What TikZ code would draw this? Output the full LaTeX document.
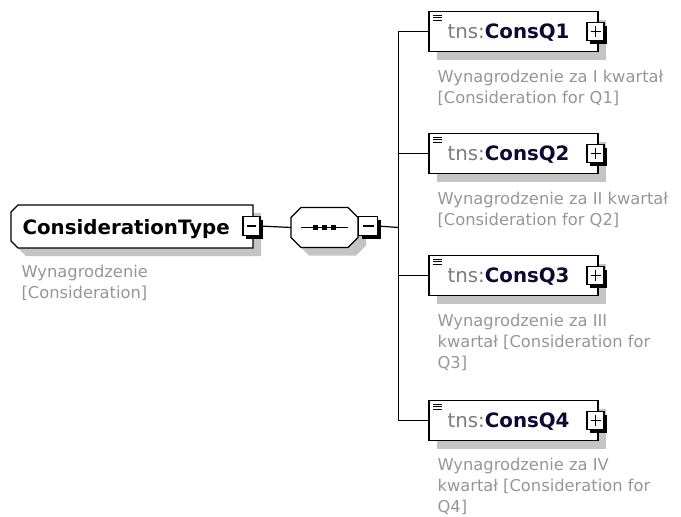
\documentclass[tikz,border=0pt]{standalone}
\usepackage{fontspec}
\setmainfont{DejaVu Sans}
\usetikzlibrary{calc}
\definecolor{shade}{RGB}{196,196,196}
\definecolor{desc}{RGB}{150,150,150}
\definecolor{nsgrey}{RGB}{125,125,125}
\definecolor{qnavy}{RGB}{10,10,50}
\begin{document}
\begin{tikzpicture}[x=1pt,y=-1pt,line width=1.2pt,
  hold/.style={inner sep=0pt,outer sep=0pt,draw=none},
  conn/.style={draw=black,line width=1.2pt},
  border/.style={draw=black,fill=white,line width=1.2pt},
  shadowfill/.style={fill=shade,draw=none},
  btnshadow/.style={fill=black,draw=none},
  btnline/.style={draw=black,line width=1.4pt},
  desctext/.style={anchor=base west,inner sep=0pt,text=desc,font=\fontsize{16.3}{21}\selectfont},
  titletext/.style={anchor=base west,inner sep=0pt,font=\fontsize{19.8}{23}\selectfont},
]
\useasboundingbox (0,0) rectangle (681,517);

% holders
\node[hold,minimum width=242pt,minimum height=43pt] (ct) at (132,226.5) {};
\node[hold,minimum width=17pt,minimum height=19pt] (ctm) at (251.5,226) {};
\node[hold,minimum width=67pt,minimum height=40pt] (seq) at (324.5,227.5) {};
\node[hold,minimum width=19pt,minimum height=19pt] (seqm) at (368,226) {};
\coordinate (bus) at (398.5,227.5);
\foreach \i/\y in {1/31.5,2/153.5,3/275.5,4/420.5}{
  \node[hold,minimum width=169pt,minimum height=40pt] (q\i) at (513.5,\y) {};
  \node[hold,minimum width=17pt,minimum height=18pt] (p\i) at (595.5,\y) {};
}

% connectors
\draw[conn] (ctm.east) -- (seq.west);
\draw[conn] (seqm.east) -- (bus);
\foreach \i in {1,...,4} \draw[conn] (bus) |- (q\i.west);

% ConsiderationType box
\fill[shadowfill] ($(ct.north west)+(15,8)$) -- ($(ct.north east)+(8,8)$) -- ($(ct.south east)+(8,8)$) -- ($(ct.south west)+(15,8)$) -- ($(ct.south west)+(8,1)$) -- ($(ct.north west)+(8,15)$) -- cycle;
\draw[border] ($(ct.north west)+(7,0)$) -- (ct.north east) -- (ct.south east) -- ($(ct.south west)+(7,0)$) -- ($(ct.south west)+(0,-7)$) -- ($(ct.north west)+(0,7)$) -- cycle;
\node[titletext] (ctt) at (22,234) {\bfseries ConsiderationType};
\node[desctext] (ctd1) at (21,277) {Wynagrodzenie};
\node[desctext] (ctd2) at (21,298) {[Consideration]};

% minus button of ConsiderationType
\fill[btnshadow] ($(ctm.north west)+(3,3)$) rectangle ($(ctm.south east)+(3,3)$);
\draw[border] (ctm.north west) rectangle (ctm.south east);
\draw[btnline] ($(ctm.west)+(4,0)$) -- ($(ctm.east)+(-4,0)$);

% sequence box
\fill[shadowfill] ($(seq.north west)+(18,8)$) -- ($(seq.north east)+(-2,8)$) -- ($(seq.north east)+(8,18)$) -- ($(seq.south east)+(8,-2)$) -- ($(seq.south east)+(-2,8)$) -- ($(seq.south west)+(18,8)$) -- ($(seq.south west)+(8,-2)$) -- ($(seq.north west)+(8,18)$) -- cycle;
\draw[border] ($(seq.north west)+(10,0)$) -- ($(seq.north east)+(-10,0)$) -- ($(seq.north east)+(0,10)$) -- ($(seq.south east)+(0,-10)$) -- ($(seq.south east)+(-10,0)$) -- ($(seq.south west)+(10,0)$) -- ($(seq.south west)+(0,-10)$) -- ($(seq.north west)+(0,10)$) -- cycle;
\draw ($(seq.west)+(10,0)$) -- ($(seq.east)+(-10,0)$);
\foreach \d in {-9,0,9} \fill ($(seq.center)+(\d-2.8,-2.8)$) rectangle +(5.6,5.6);

% minus button of sequence
\fill[btnshadow] ($(seqm.north west)+(3,3)$) rectangle ($(seqm.south east)+(3,3)$);
\draw[border] (seqm.north west) rectangle (seqm.south east);
\draw[btnline] ($(seqm.west)+(4,0)$) -- ($(seqm.east)+(-4,0)$);

% element boxes
\foreach \i in {1,...,4}{
  \fill[shadowfill] ($(q\i.north west)+(8,8)$) rectangle ($(q\i.south east)+(8,8)$);
  \draw[border] (q\i.north west) rectangle (q\i.south east);
  \foreach \k in {3.5,6,8.5} \draw[line width=0.9pt] ($(q\i.north west)+(4,\k)$) -- +(9,0);
  \fill[btnshadow] ($(p\i.north west)+(3,3)$) rectangle ($(p\i.south east)+(3,3)$);
  \draw[border] (p\i.north west) rectangle (p\i.south east);
  \draw[btnline] ($(p\i.west)+(3.5,0)$) -- ($(p\i.east)+(-3.5,0)$);
  \draw[btnline] ($(p\i.north)+(0,3.5)$) -- ($(p\i.south)+(0,-3.5)$);
  \node[titletext] (qt\i) at ($(q\i.west)+(18,7)$) {\textcolor{nsgrey}{tns:}\textcolor{qnavy}{\bfseries ConsQ\i}};
}

% descriptions
\node[desctext] (d1a) at (437,82) {Wynagrodzenie za I kwartał};
\node[desctext] (d1b) at (437,103) {[Consideration for Q1]};
\node[desctext] (d2a) at (437,204) {Wynagrodzenie za II kwartał};
\node[desctext] (d2b) at (437,225) {[Consideration for Q2]};
\node[desctext] (d3a) at (437,326) {Wynagrodzenie za III};
\node[desctext] (d3b) at (437,347) {kwartał [Consideration for};
\node[desctext] (d3c) at (437,368) {Q3]};
\node[desctext] (d4a) at (437,470) {Wynagrodzenie za IV};
\node[desctext] (d4b) at (437,491) {kwartał [Consideration for};
\node[desctext] (d4c) at (437,512) {Q4]};
\end{tikzpicture}
\end{document}
